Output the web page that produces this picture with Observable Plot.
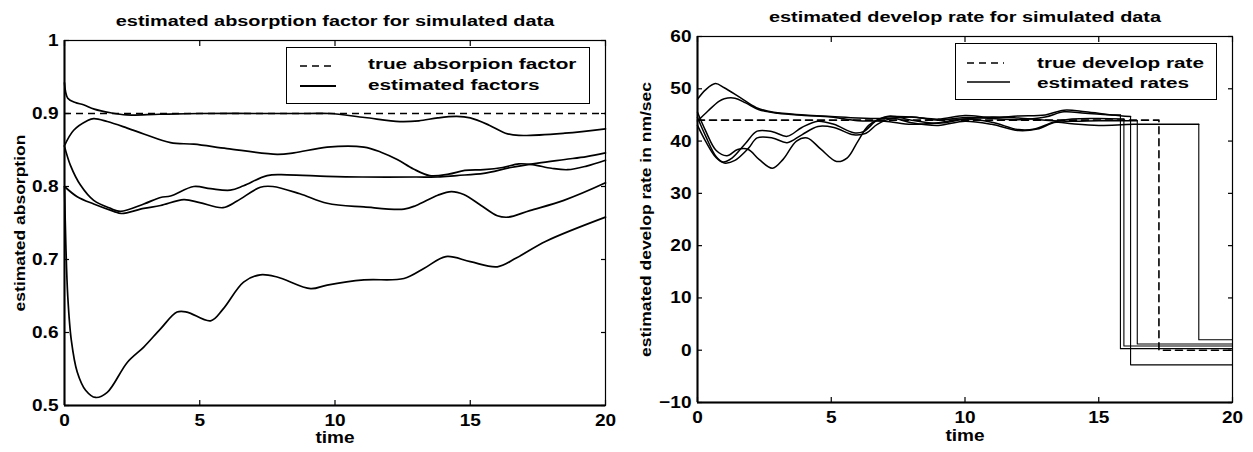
<!DOCTYPE html>
<html>
<head>
<meta charset="utf-8">
<script src="https://cdn.jsdelivr.net/npm/d3@7"></script>
<script src="https://cdn.jsdelivr.net/npm/@observablehq/plot@0.6"></script>
<style>
  body { margin: 0; background: #fff; }
  #wrap { position: relative; width: 1253px; height: 452px; overflow: hidden; background: #fff;
          font-family: "Liberation Sans", Arial, sans-serif; font-weight: bold; color: #000; }
  .panel { position: absolute; top: 0; }
  .box { position: absolute; box-sizing: border-box; border: 1.4px solid #000; background: #fff; }
  .lt { position: absolute; font-size: 14px; line-height: 1; white-space: nowrap;
        transform-origin: 0 0; transform: scaleX(1.48); }
  #legendLines { position: absolute; left: 0; top: 0; }
</style>
</head>
<body>
<div id="wrap">
  <div id="left" class="panel" style="left:0px"></div>
  <div id="right" class="panel" style="left:626px"></div>

  <div class="box" style="left:286px;top:47px;width:304px;height:57px"></div>
  <div class="lt" id="absLeg1" style="left:368px;top:57px"></div>
  <div class="lt" id="absLeg2" style="left:368px;top:78px"></div>

  <div class="box" style="left:955px;top:43px;width:262px;height:57px"></div>
  <div class="lt" id="rateLeg1" style="left:1037px;top:56px"></div>
  <div class="lt" id="rateLeg2" style="left:1037px;top:76px"></div>

  <svg id="legendLines" width="1253" height="452">
    <line x1="300" x2="336" y1="66" y2="66" stroke="#000" stroke-width="1.6" stroke-dasharray="7,5"/>
    <line x1="300" x2="336" y1="86" y2="86" stroke="#000" stroke-width="1.8"/>
    <line x1="967" x2="1004" y1="63" y2="63" stroke="#000" stroke-width="1.6" stroke-dasharray="7,5"/>
    <line x1="967" x2="1010" y1="82" y2="82" stroke="#000" stroke-width="1.4"/>
  </svg>
</div>
<script>
// ---------- shared ticks ----------
const timeTicks = [0, 5, 10, 15, 20];
const timeTickLabels = ["0", "5", "10", "15", "20"];
const timeDomain = [0, 20];

// ---------- left panel: absorption ----------
const absTitle = "estimated absorption factor for simulated data";
const absYLabel = "estimated absorption";
const absLegend = ["true absorpion factor", "estimated factors"];
const absDomain = [0.5, 1];
const absTicks = [0.5, 0.6, 0.7, 0.8, 0.9, 1];
const absTickLabels = ["0.5", "0.6", "0.7", "0.8", "0.9", "1"];
const absTrueFactor = 0.9;

const absSeries1 = [[0,0.942],[0.12,0.921],[0.4,0.915],[0.7,0.912],[1.1,0.906],[1.7,0.901],[2.3,0.898],[3.5,0.899],[5,0.9],[7,0.9],[9,0.9],[9.8,0.9],[11.1,0.8945],[12.4,0.889],[13.1,0.890],[13.8,0.894],[14.5,0.896],[15.0,0.894],[15.7,0.884],[16.3,0.873],[16.8,0.870],[18.5,0.873],[20,0.879]];
const absSeries2 = [[0,0.856],[0.34,0.877],[0.84,0.890],[1.08,0.893],[1.58,0.889],[2.32,0.880],[2.93,0.872],[3.92,0.860],[4.78,0.858],[6.01,0.852],[7.86,0.844],[8.48,0.846],[9.71,0.854],[11.07,0.854],[11.7,0.847],[12.3,0.837],[12.9,0.824],[13.5,0.815],[14.2,0.817],[14.8,0.822],[15.5,0.823],[16.2,0.826],[16.8,0.831],[17.3,0.830],[18.0,0.825],[18.6,0.823],[19.3,0.828],[20,0.836]];
const absSeries3 = [[0,0.855],[0.22,0.829],[0.59,0.802],[1.08,0.781],[1.7,0.770],[2.07,0.766],[2.93,0.776],[3.55,0.785],[3.92,0.787],[4.78,0.800],[5.4,0.797],[6.13,0.795],[6.62,0.801],[7.49,0.815],[8.23,0.816],[9.7,0.814],[11,0.813],[13.0,0.813],[13.8,0.813],[14.5,0.815],[15.5,0.818],[16.5,0.826],[17.5,0.832],[18.5,0.837],[19.3,0.841],[20,0.846]];
const absSeries4 = [[0,0.80],[0.47,0.786],[1.08,0.776],[1.82,0.766],[2.1,0.763],[2.93,0.770],[3.55,0.774],[4.41,0.782],[5.0,0.778],[5.86,0.771],[6.38,0.780],[7.24,0.799],[7.7,0.800],[8.7,0.790],[9.71,0.777],[11.07,0.772],[12.55,0.769],[13.0,0.774],[13.8,0.788],[14.3,0.793],[14.76,0.789],[15.4,0.774],[16.0,0.760],[16.4,0.758],[17.2,0.767],[18.46,0.781],[20,0.805]];
const absSeries5 = [[0,0.80],[0.05,0.72],[0.12,0.65],[0.25,0.59],[0.47,0.546],[0.78,0.521],[1.15,0.511],[1.58,0.518],[2.32,0.559],[2.93,0.580],[3.55,0.605],[4.16,0.628],[4.53,0.628],[5.4,0.616],[5.86,0.632],[6.62,0.669],[7.24,0.679],[7.86,0.676],[9.1,0.660],[9.71,0.665],[11.07,0.672],[12.55,0.674],[13.3,0.688],[14.1,0.704],[15.0,0.697],[16.0,0.690],[16.7,0.702],[17.8,0.725],[20,0.758]];
const absSeries = [absSeries1, absSeries2, absSeries3, absSeries4, absSeries5];

// ---------- right panel: develop rate ----------
const rateTitle = "estimated develop rate for simulated data";
const rateYLabel = "estimated develop rate in nm/sec";
const rateLegend = ["true develop rate", "estimated rates"];
const rateDomain = [-10, 60];
const rateTicks = [-10, 0, 10, 20, 30, 40, 50, 60];
const rateTickLabels = ["\u221210", "0", "10", "20", "30", "40", "50", "60"];
const rateTrue = [[0,44],[17.25,44],[17.25,0],[20,0]];

const rateSeries1 = [[0,48],[0.3,49.8],[0.67,51],[1.0,50.2],[1.6,48.3],[2.2,46.4],[2.85,45.5],[4,45.0],[5,44.7],[6,44.4],[7,44.3],[8,44.6],[9,44.0],[10,44.5],[11,44.3],[12,44.1],[13,44.6],[13.7,45.6],[14.5,45.3],[15.5,45.0],[15.81,45.0]];
const rateSeries2 = [[0,43.8],[0.4,45.8],[0.8,47.6],[1.0,48.1],[1.4,48.2],[1.8,47.3],[2.3,46.0],[3,45.3],[4,44.9],[5,44.6],[6,43.9],[7,43.8],[8,43.2],[9,43.5],[10,44.2],[11,43.6],[12,42.2],[12.6,42.3],[13.3,43.6],[14,44.2],[15,44.3],[15.94,44.2]];
const rateSeries3 = [[0,45.5],[0.3,42],[0.7,38.2],[1.1,37.2],[1.5,38.4],[1.9,38.4],[2.3,36.5],[2.8,34.8],[3.2,36.5],[3.7,40.0],[4.1,40.6],[4.6,38.5],[5.2,36.1],[5.6,36.8],[6.0,40.0],[6.4,43.0],[7.0,44.5],[8,44.6],[9,44.2],[10,44.9],[11,44.5],[12,44.8],[13,45.0],[13.7,45.9],[14.5,45.6],[15.5,45.0],[16.19,44.7]];
const rateSeries4 = [[0,44.5],[0.3,41.0],[0.7,37.0],[0.95,36.0],[1.3,36.8],[1.8,39.6],[2.23,41.9],[2.8,41.8],[3.35,40.9],[3.9,42.6],[4.5,43.8],[5.1,43.2],[5.84,41.6],[6.2,41.8],[6.72,44.0],[7.2,44.8],[8,44.0],[9,43.4],[10,44.2],[11,44.6],[12,44.4],[13,44.0],[14,43.8],[15,43.9],[16.44,43.9]];
const rateSeries5 = [[0,43.0],[0.3,40.0],[0.7,36.8],[1.0,35.8],[1.4,36.3],[1.9,38.6],[2.23,40.6],[2.8,40.6],[3.35,39.7],[3.9,41.2],[4.5,42.8],[5.1,42.6],[5.84,41.2],[6.3,41.5],[6.72,43.2],[7.3,44.3],[8,43.5],[9,43.0],[10,43.8],[11,43.2],[12,42.0],[12.7,42.3],[13.4,43.6],[14,43.3],[15,43.0],[16.3,43.2],[18.74,43.2]];
const rateSeries = [rateSeries1, rateSeries2, rateSeries3, rateSeries4, rateSeries5];
const rateDropTimes = [15.81, 15.94, 16.19, 16.44, 18.74];
const rateDropLevels = [0.3, 0.8, -2.8, 1.2, 2.0];

// ---------- helpers ----------
const X = d => d[0], Y = d => d[1];

function stretch(svg, selector, s) {
  svg.querySelectorAll(selector).forEach(t => {
    const x = parseFloat(t.getAttribute("x") || "0");
    if (x) t.setAttribute("x", x / s);
    t.setAttribute("transform", (t.getAttribute("transform") || "") + ` scale(${s},1)`);
  });
}

function makePanel(o) {
  const svg = Plot.plot({
    width: o.width, height: 452,
    marginLeft: o.ml, marginRight: o.mr, marginTop: o.mt, marginBottom: o.mb,
    x: {domain: timeDomain},
    y: {domain: o.yDomain},
    style: {fontFamily: '"Liberation Sans", Arial, sans-serif', fontWeight: "bold", color: "#000", background: "#fff", overflow: "visible"},
    marks: [
      ...o.marks,
      Plot.frame({stroke: "#000", strokeWidth: 1.2}),
      Plot.ruleX([timeDomain[0]], {stroke: "#000", strokeWidth: 2}),
      Plot.ruleY([o.yDomain[0]], {stroke: "#000", strokeWidth: 2}),
      Plot.axisX({anchor: "bottom", ticks: timeTicks, tickFormat: d => timeTickLabels[timeTicks.indexOf(d)], tickSize: -5, tickPadding: 13, fontSize: 17, label: null, strokeWidth: 1.2}),
      Plot.axisX({anchor: "top", ticks: timeTicks, tickFormat: () => "", tickSize: -5, label: null, strokeWidth: 1.2}),
      Plot.axisY({anchor: "left", ticks: o.yTicks, tickFormat: d => o.yLabels[o.yTicks.indexOf(d)], tickSize: -5, tickPadding: 11, fontSize: 17, label: null, strokeWidth: 1.2}),
      Plot.axisY({anchor: "right", ticks: o.yTicks, tickFormat: () => "", tickSize: -5, label: null, strokeWidth: 1.2}),
      Plot.text([o.title], {text: d => d, frameAnchor: "top", textAnchor: "middle", lineAnchor: "bottom", dy: -15, fontSize: 14, ariaDescription: "chart-title"}),
      Plot.text(["time"], {text: d => d, frameAnchor: "bottom", textAnchor: "middle", lineAnchor: "bottom", dy: o.timeDy, fontSize: 17, ariaDescription: "chart-xlabel"}),
      Plot.text([o.ylabel], {text: d => d, frameAnchor: "left", textAnchor: "middle", lineAnchor: "middle", rotate: -90, dx: o.ylabelDx, fontSize: 14, ariaDescription: "chart-ylabel"})
    ]
  });
  stretch(svg, 'g[aria-label="x-axis tick label"] text', 1.12);
  stretch(svg, 'g[aria-label="y-axis tick label"] text', 1.12);
  stretch(svg, 'g[aria-description="chart-title"] text', 1.42);
  stretch(svg, 'g[aria-description="chart-xlabel"] text', 1.12);
  stretch(svg, 'g[aria-description="chart-ylabel"] text', 1.25);
  return svg;
}

// left
const absMarks = [
  Plot.ruleY([absTrueFactor], {stroke: "#000", strokeWidth: 1.5, strokeDasharray: "7,5"}),
  ...absSeries.map(s => Plot.line(s, {x: X, y: Y, curve: "catmull-rom", stroke: "#000", strokeWidth: 1.7}))
];
document.getElementById("left").append(makePanel({
  width: 626, ml: 64, mr: 21, mt: 40, mb: 47,
  yDomain: absDomain, yTicks: absTicks, yLabels: absTickLabels,
  title: absTitle, ylabel: absYLabel, ylabelDx: -44, timeDy: 37,
  marks: absMarks
}));

// right
const rateMarks = [
  Plot.line(rateTrue, {x: X, y: Y, stroke: "#000", strokeWidth: 1.6, strokeDasharray: "7,5"}),
  ...rateSeries.map(s => Plot.line(s, {x: X, y: Y, curve: "catmull-rom", stroke: "#000", strokeWidth: 1.5})),
  ...rateSeries.map((s, i) => Plot.line(
    [[rateDropTimes[i], s[s.length - 1][1]], [rateDropTimes[i], rateDropLevels[i]], [timeDomain[1], rateDropLevels[i]]],
    {x: X, y: Y, stroke: "#000", strokeWidth: 1.1}))
];
document.getElementById("right").append(makePanel({
  width: 627, ml: 71, mr: 21, mt: 36, mb: 50,
  yDomain: rateDomain, yTicks: rateTicks, yLabels: rateTickLabels,
  title: rateTitle, ylabel: rateYLabel, ylabelDx: -51, timeDy: 38,
  marks: rateMarks
}));

// legends text
document.getElementById("absLeg1").textContent = absLegend[0];
document.getElementById("absLeg2").textContent = absLegend[1];
document.getElementById("rateLeg1").textContent = rateLegend[0];
document.getElementById("rateLeg2").textContent = rateLegend[1];
</script>
</body>
</html>
